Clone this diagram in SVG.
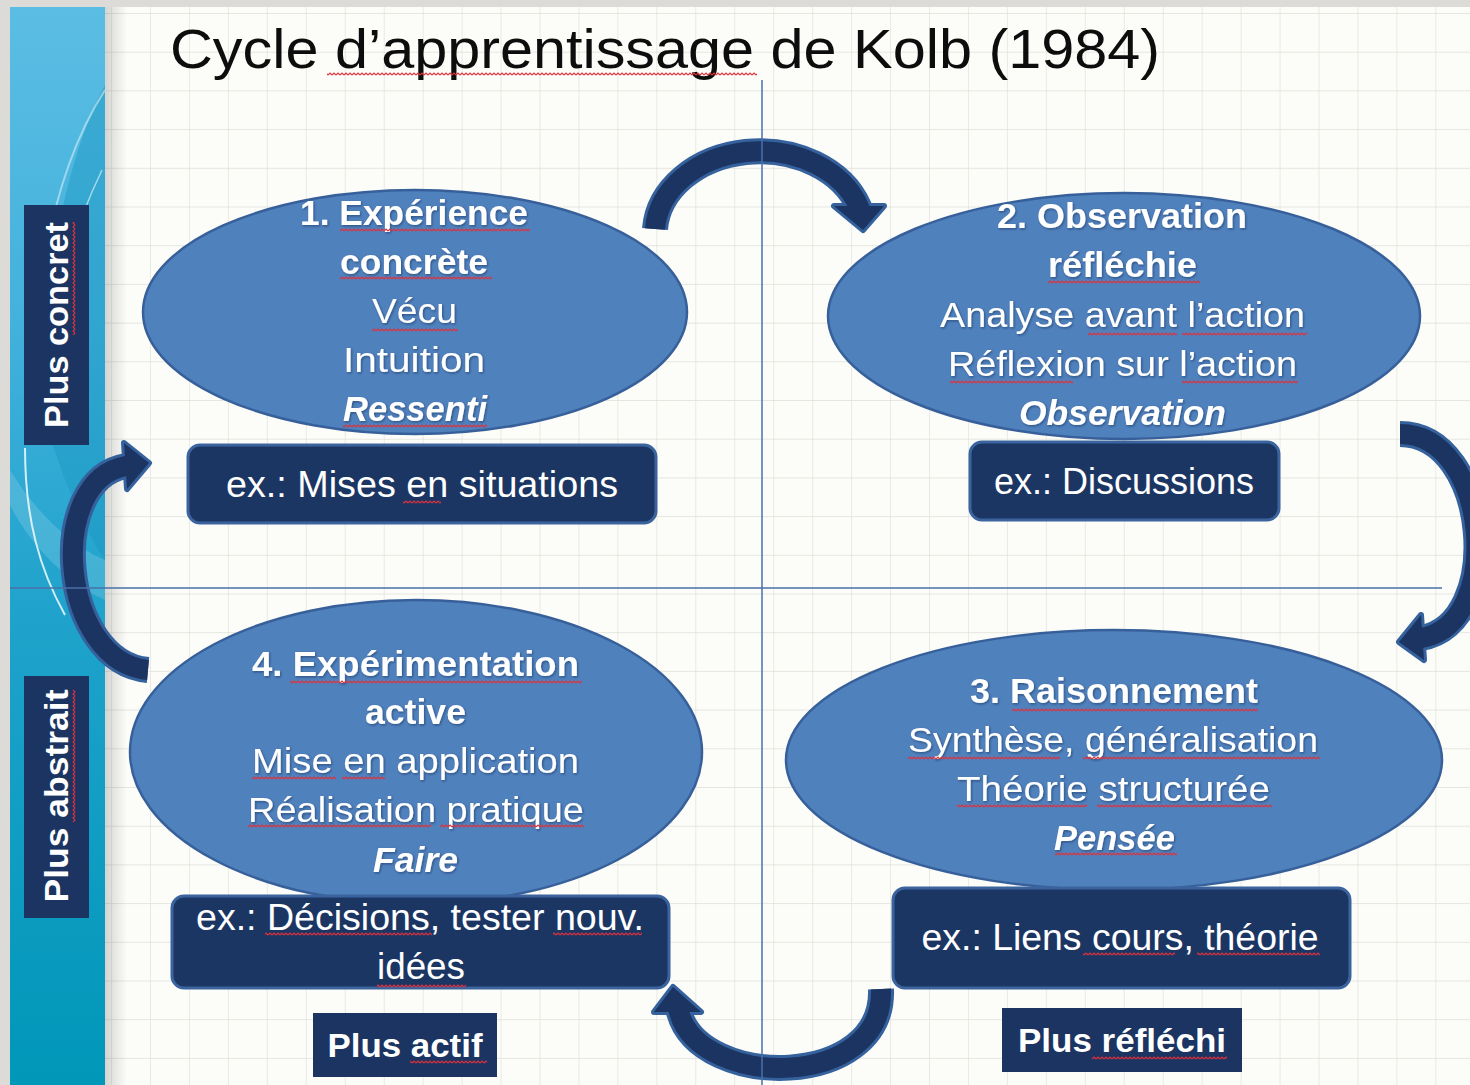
<svg xmlns="http://www.w3.org/2000/svg" width="1470" height="1085" viewBox="0 0 1470 1085">
<defs>
<linearGradient id="band" x1="0" y1="0" x2="0" y2="1">
<stop offset="0" stop-color="#5bbde3"/>
<stop offset="0.3" stop-color="#42b1dc"/>
<stop offset="0.55" stop-color="#20a3cc"/>
<stop offset="1" stop-color="#0097b9"/>
</linearGradient>
<linearGradient id="shade" x1="0" y1="0" x2="1" y2="0">
<stop offset="0" stop-color="#000" stop-opacity="0.16"/>
<stop offset="1" stop-color="#000" stop-opacity="0"/>
</linearGradient>
<pattern id="grid" width="38.95" height="38.7" patternUnits="userSpaceOnUse" x="33.15" y="13">
<path d="M0,0 H38.95 M0,0 V38.7" fill="none" stroke="#e0e0d9" stroke-width="1.3"/>
</pattern>
<pattern id="sq" width="4" height="4" patternUnits="userSpaceOnUse">
<path d="M0,3 L2,1 L4,3" fill="none" stroke="#e0303a" stroke-width="1.2"/>
</pattern>
<filter id="ts" x="-5%" y="-20%" width="110%" height="140%">
<feDropShadow dx="1" dy="1.2" stdDeviation="0.8" flood-color="#0a1a33" flood-opacity="0.45"/>
</filter>
</defs>
<style>
.ell{fill:#4f81bd;stroke:#37609a;stroke-width:2.5}
.box{fill:#1c3664;stroke:#3b649e;stroke-width:3}
.lab{fill:#1b3461}
.t{font-family:"Liberation Sans",Arial,sans-serif;fill:#fff;text-anchor:middle}
.et{font-size:35px;filter:url(#ts)}
.bt{font-size:36px}
.b{font-weight:bold}
.bi{font-weight:bold;font-style:italic}
.sq{fill:url(#sq)}
.ao{fill:none;stroke:#35619d;stroke-width:26}
.af{fill:none;stroke:#1b3461;stroke-width:20}
.ho{fill:#35619d;stroke:#35619d;stroke-width:6;stroke-linejoin:round}
.hf{fill:#1b3461}
.axis{stroke:#4a70a8;stroke-width:1.5}
</style>

<g id="background">
<rect x="0" y="0" width="1470" height="1085" fill="#dddbd7"/>
<rect x="105" y="7" width="1365" height="1078" fill="#fcfcf9"/>
<rect x="105" y="7" width="1365" height="1078" fill="url(#grid)"/>
<rect x="105" y="7" width="22" height="1078" fill="url(#shade)"/>
</g>

<g id="band">
<rect x="10" y="7" width="95" height="1078" fill="url(#band)"/>
<path d="M105,85 C70,150 45,260 40,400 C60,480 90,540 105,560 Z" fill="#1a97c0" opacity="0.45"/>
<path d="M105,90 C60,160 35,260 32,400" fill="none" stroke="#fff" stroke-opacity="0.45" stroke-width="2"/>
<path d="M102,170 C78,220 62,270 56,320" fill="none" stroke="#fff" stroke-opacity="0.55" stroke-width="1.5"/>
<path d="M25,448 C25,520 40,570 65,615" fill="none" stroke="#fff" stroke-opacity="0.8" stroke-width="2"/>
<path d="M10,470 C40,520 80,550 105,560 L105,600 C70,585 30,545 10,505 Z" fill="#fff" opacity="0.15"/>
</g>

<g id="title">
<text x="170" y="68" font-family="Liberation Sans, Arial, sans-serif" font-size="56" fill="#0d0d0d" textLength="990" lengthAdjust="spacingAndGlyphs">Cycle d’apprentissage de Kolb (1984)</text>
<rect class="sq" x="327" y="72" width="430" height="4"/>
</g>

<g id="label-concret">
<rect class="lab" x="24" y="205" width="65" height="240"/>
<g transform="translate(68,325) rotate(-90)">
<text class="t b" x="0" y="0" font-size="34" textLength="206" lengthAdjust="spacingAndGlyphs">Plus concret</text>
<rect class="sq" x="-10" y="4" width="113" height="4"/>
</g>
</g>

<g id="label-abstrait">
<rect class="lab" x="24" y="676" width="65" height="242"/>
<g transform="translate(68,796) rotate(-90)">
<text class="t b" x="0" y="0" font-size="34" textLength="213" lengthAdjust="spacingAndGlyphs">Plus abstrait</text>
<rect class="sq" x="-26" y="4" width="132" height="4"/>
</g>
</g>

<g id="connectors">
<path class="ao" d="M655,229 A105,83 0 0 1 859,207 L861,212"/>
<polygon class="ho" points="834,206 884,206 863,230"/>
<path class="ao" d="M1400,434 C1490,434 1505,625 1421,638 L1417,639"/>
<polygon class="ho" points="1421,615 1399,642 1424,660"/>
<path class="ao" d="M881,989 C885,1090 700,1090 679,1012 L678,1008"/>
<polygon class="ho" points="654,1012 673,987 701,1012"/>
<path class="ao" d="M148,670 C60,662 45,480 126,466 L130,465"/>
<polygon class="ho" points="124,443 149,463 127,489"/>
<path class="af" d="M655,229 A105,83 0 0 1 859,207 L861,212"/>
<polygon class="hf" points="834,206 884,206 863,230"/>
<path class="af" d="M1400,434 C1490,434 1505,625 1421,638 L1417,639"/>
<polygon class="hf" points="1421,615 1399,642 1424,660"/>
<path class="af" d="M881,989 C885,1090 700,1090 679,1012 L678,1008"/>
<polygon class="hf" points="654,1012 673,987 701,1012"/>
<path class="af" d="M148,670 C60,662 45,480 126,466 L130,465"/>
<polygon class="hf" points="124,443 149,463 127,489"/>
</g>

<g id="axes">
<line class="axis" x1="762" y1="80" x2="762" y2="1085"/>
<line class="axis" x1="10" y1="588" x2="1442" y2="588"/>
</g>

<g id="node-1">
<ellipse class="ell" cx="415" cy="312" rx="272" ry="122"/>
<text class="t et b" x="414" y="225" textLength="228" lengthAdjust="spacingAndGlyphs">1. Expérience</text>
<text class="t et b" x="414" y="274" textLength="148" lengthAdjust="spacingAndGlyphs">concrète</text>
<text class="t et" x="414.5" y="323" textLength="85" lengthAdjust="spacingAndGlyphs">Vécu</text>
<text class="t et" x="414" y="372" textLength="142" lengthAdjust="spacingAndGlyphs">Intuition</text>
<text class="t et bi" x="415" y="421" textLength="144" lengthAdjust="spacingAndGlyphs">Ressenti</text>
<rect class="sq" x="340" y="228" width="190" height="4"/>
<rect class="sq" x="340" y="276" width="152" height="4"/>
<rect class="sq" x="372" y="328" width="86" height="4"/>
<rect class="sq" x="343" y="424" width="144" height="4"/>
</g>
<g id="example-1">
<rect class="box" x="188" y="445" width="468" height="78" rx="12"/>
<text class="t bt" x="422" y="497" textLength="392" lengthAdjust="spacingAndGlyphs">ex.: Mises en situations</text>
<rect class="sq" x="403" y="500" width="38" height="4"/>
</g>

<g id="node-2">
<ellipse class="ell" cx="1124" cy="316" rx="296" ry="123"/>
<text class="t et b" x="1122" y="228" textLength="250" lengthAdjust="spacingAndGlyphs">2. Observation</text>
<text class="t et b" x="1122.5" y="277" textLength="149" lengthAdjust="spacingAndGlyphs">réfléchie</text>
<text class="t et" x="1122.5" y="327" textLength="365" lengthAdjust="spacingAndGlyphs">Analyse avant l’action</text>
<text class="t et" x="1122.5" y="376" textLength="349" lengthAdjust="spacingAndGlyphs">Réflexion sur l’action</text>
<text class="t et bi" x="1122.5" y="425" textLength="207" lengthAdjust="spacingAndGlyphs">Observation</text>
<rect class="sq" x="1048" y="280" width="152" height="4"/>
<rect class="sq" x="1088" y="332" width="89" height="4"/>
<rect class="sq" x="1182" y="332" width="125" height="4"/>
<rect class="sq" x="950" y="380" width="123" height="4"/>
<rect class="sq" x="1182" y="380" width="116" height="4"/>
</g>
<g id="example-2">
<rect class="box" x="970" y="442" width="309" height="78" rx="12"/>
<text class="t bt" x="1124" y="494" textLength="260" lengthAdjust="spacingAndGlyphs">ex.: Discussions</text>
</g>

<g id="node-3">
<ellipse class="ell" cx="1114" cy="760" rx="328" ry="130"/>
<text class="t et b" x="1114" y="703" textLength="288" lengthAdjust="spacingAndGlyphs">3. Raisonnement</text>
<text class="t et" x="1113" y="752" textLength="410" lengthAdjust="spacingAndGlyphs">Synthèse, généralisation</text>
<text class="t et" x="1113.5" y="801" textLength="313" lengthAdjust="spacingAndGlyphs">Théorie structurée</text>
<text class="t et bi" x="1114.5" y="850" textLength="121" lengthAdjust="spacingAndGlyphs">Pensée</text>
<rect class="sq" x="1012" y="708" width="246" height="4"/>
<rect class="sq" x="908" y="756" width="152" height="4"/>
<rect class="sq" x="1083" y="756" width="237" height="4"/>
<rect class="sq" x="957" y="804" width="130" height="4"/>
<rect class="sq" x="1097" y="804" width="175" height="4"/>
<rect class="sq" x="1055" y="852" width="122" height="4"/>
</g>
<g id="example-3">
<rect class="box" x="893" y="888" width="457" height="100" rx="12"/>
<text class="t bt" x="1120" y="950" textLength="397" lengthAdjust="spacingAndGlyphs">ex.: Liens cours, théorie</text>
<rect class="sq" x="1083" y="952" width="92" height="4"/>
<rect class="sq" x="1197" y="952" width="123" height="4"/>
</g>

<g id="node-4">
<ellipse class="ell" cx="416" cy="752" rx="286" ry="152"/>
<text class="t et b" x="415.5" y="676" textLength="327" lengthAdjust="spacingAndGlyphs">4. Expérimentation</text>
<text class="t et b" x="415.5" y="724" textLength="101" lengthAdjust="spacingAndGlyphs">active</text>
<text class="t et" x="415.5" y="773" textLength="327" lengthAdjust="spacingAndGlyphs">Mise en application</text>
<text class="t et" x="416" y="822" textLength="336" lengthAdjust="spacingAndGlyphs">Réalisation pratique</text>
<text class="t et bi" x="415.5" y="872" textLength="85" lengthAdjust="spacingAndGlyphs">Faire</text>
<rect class="sq" x="290" y="680" width="292" height="4"/>
<rect class="sq" x="252" y="776" width="84" height="4"/>
<rect class="sq" x="342" y="776" width="43" height="4"/>
<rect class="sq" x="248" y="824" width="183" height="4"/>
<rect class="sq" x="440" y="824" width="144" height="4"/>
</g>
<g id="example-4">
<rect class="box" x="172" y="896" width="497" height="92" rx="12"/>
<text class="t bt" x="420" y="930" textLength="448" lengthAdjust="spacingAndGlyphs">ex.: Décisions, tester nouv.</text>
<text class="t bt" x="421" y="979" textLength="88" lengthAdjust="spacingAndGlyphs">idées</text>
<rect class="sq" x="265" y="932" width="167" height="4"/>
<rect class="sq" x="553" y="932" width="89" height="4"/>
<rect class="sq" x="377" y="984" width="89" height="4"/>
</g>

<g id="label-actif">
<rect class="lab" x="313" y="1013" width="184" height="64"/>
<text class="t b" x="405" y="1057" font-size="34" textLength="155" lengthAdjust="spacingAndGlyphs">Plus actif</text>
<rect class="sq" x="410" y="1060" width="77" height="4"/>
</g>
<g id="label-reflechi">
<rect class="lab" x="1002" y="1008" width="240" height="64"/>
<text class="t b" x="1122" y="1052" font-size="34" textLength="208" lengthAdjust="spacingAndGlyphs">Plus réfléchi</text>
<rect class="sq" x="1092" y="1056" width="135" height="4"/>
</g>
</svg>
